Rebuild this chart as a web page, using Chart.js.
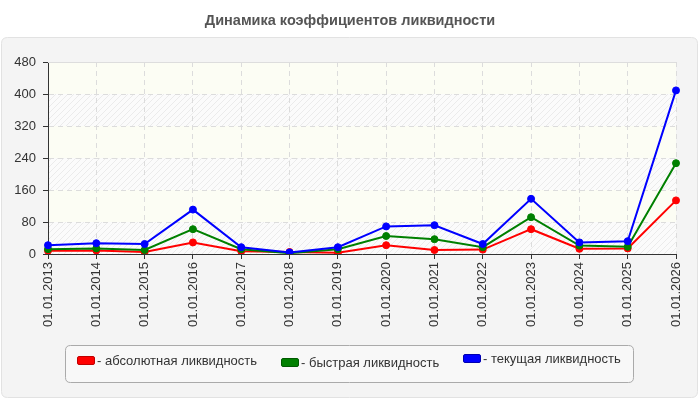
<!DOCTYPE html>
<html>
<head>
<meta charset="utf-8">
<script src="https://cdn.jsdelivr.net/npm/chart.js@4.4.1/dist/chart.umd.min.js"></script>
<style>
  html, body { margin:0; padding:0; background:#fff; }
  #wrap { position:relative; width:700px; height:400px; font-family:"Liberation Sans", Arial, sans-serif; }
  canvas { position:absolute; left:0; top:0; }
  #title { position:absolute; left:0; top:12px; width:700px; text-align:center; font-weight:bold; font-size:14.5px; color:#555; }
  .lg { position:absolute; font-size:13px; color:#333; white-space:nowrap; line-height:15px; }
  .sw { display:inline-block; width:16px; height:7px; border-radius:2px; margin-right:2px; vertical-align:0px; }
</style>
</head>
<body>
<div id="wrap">
  <canvas id="c" width="700" height="400"></canvas>
  <div id="title">Динамика коэффициентов ликвидности</div>
  <div class="lg" style="left:77px; top:353px;"><span class="sw" style="background:#ff0000;border:1px solid #c00000;"></span>- абсолютная ликвидность</div>
  <div class="lg" style="left:281px; top:355px;"><span class="sw" style="background:#008000;border:1px solid #005a00;"></span>- быстрая ликвидность</div>
  <div class="lg" style="left:463px; top:351px;"><span class="sw" style="background:#0000ff;border:1px solid #0000b0;"></span>- текущая ликвидность</div>
</div>
<script>
const categories = ["01.01.2013","01.01.2014","01.01.2015","01.01.2016","01.01.2017","01.01.2018","01.01.2019","01.01.2020","01.01.2021","01.01.2022","01.01.2023","01.01.2024","01.01.2025","01.01.2026"];
const absoluteLiquidity = [8, 9, 5, 29, 7, 5, 3, 22, 10, 11, 62, 13, 14, 134];
const quickLiquidity    = [12, 14, 10, 62, 12, 2, 12, 45, 37, 17, 92, 21, 18, 227];
const currentLiquidity  = [22, 27, 25, 111, 17, 4, 17, 69, 72, 25, 138, 29, 32, 409];
const yTicks = [0, 80, 160, 240, 320, 400, 480];

function makeHatch(ctx) {
  const p = document.createElement('canvas');
  p.width = 6; p.height = 6;
  const g = p.getContext('2d');
  g.fillStyle = '#fbfbfb';
  g.fillRect(0,0,6,6);
  g.strokeStyle = '#ebebeb';
  g.lineWidth = 1;
  g.beginPath();
  g.moveTo(-1,7); g.lineTo(7,-1);
  g.moveTo(-1,1); g.lineTo(1,-1);
  g.moveTo(5,7); g.lineTo(7,5);
  g.stroke();
  return ctx.createPattern(p,'repeat');
}

function roundRect(ctx, x0, y0, x1, y1, r) {
  ctx.beginPath();
  ctx.moveTo(x0 + r, y0);
  ctx.lineTo(x1 - r, y0); ctx.quadraticCurveTo(x1, y0, x1, y0 + r);
  ctx.lineTo(x1, y1 - r); ctx.quadraticCurveTo(x1, y1, x1 - r, y1);
  ctx.lineTo(x0 + r, y1); ctx.quadraticCurveTo(x0, y1, x0, y1 - r);
  ctx.lineTo(x0, y0 + r); ctx.quadraticCurveTo(x0, y0, x0 + r, y0);
  ctx.closePath();
}

const bgPlugin = {
  id: 'bg',
  beforeDraw(chart) {
    const ctx = chart.ctx;
    const ca = chart.chartArea;
    const y = chart.scales.y;
    ctx.save();
    roundRect(ctx, 1.5, 37.5, 697.5, 397.5, 6);
    ctx.fillStyle = '#f4f4f4';
    ctx.fill();
    ctx.strokeStyle = '#e2e2e2';
    ctx.lineWidth = 1;
    ctx.stroke();
    const hatch = makeHatch(ctx);
    for (let i = 0; i < yTicks.length - 1; i++) {
      const top = y.getPixelForValue(yTicks[i + 1]);
      const bot = y.getPixelForValue(yTicks[i]);
      ctx.fillStyle = (i % 2 === 0) ? hatch : '#fcfdf4';
      ctx.fillRect(ca.left, top, ca.right - ca.left, bot - top);
    }
    roundRect(ctx, 65.5, 345.5, 633.5, 382.5, 5);
    ctx.fillStyle = '#f8f8f8';
    ctx.fill();
    ctx.strokeStyle = '#aaaaaa';
    ctx.stroke();
    ctx.restore();
  },
  afterDatasetsDraw(chart) {
    const ctx = chart.ctx, ca = chart.chartArea;
    ctx.save();
    ctx.strokeStyle = '#dddddd';
    ctx.lineWidth = 1;
    ctx.beginPath();
    ctx.moveTo(ca.left, Math.round(ca.top) + 0.5);
    ctx.lineTo(ca.right, Math.round(ca.top) + 0.5);
    ctx.stroke();
    ctx.restore();
  }
};

const tickFont = { family: '"Liberation Sans", Arial, sans-serif', size: 13 };

new Chart(document.getElementById('c'), {
  type: 'line',
  data: {
    labels: categories,
    datasets: [
      { label: 'абсолютная ликвидность', data: absoluteLiquidity, borderColor: '#ff0000', backgroundColor: '#ff0000', order: 3 },
      { label: 'быстрая ликвидность', data: quickLiquidity, borderColor: '#008000', backgroundColor: '#008000', order: 2 },
      { label: 'текущая ликвидность', data: currentLiquidity, borderColor: '#0000ff', backgroundColor: '#0000ff', order: 1 }
    ]
  },
  options: {
    responsive: false,
    animation: false,
    devicePixelRatio: 1,
    layout: { padding: { top: 62, right: 24, bottom: 70, left: 0 } },
    elements: {
      line: { borderWidth: 2, tension: 0, fill: false },
      point: { radius: 3.5, borderWidth: 1, hoverRadius: 3.5 }
    },
    plugins: { legend: { display: false }, tooltip: { enabled: false }, title: { display: false } },
    scales: {
      x: {
        offset: false,
        afterFit(s) { s.height = 76; },
        grid: { color: '#dcdcdc', lineWidth: 1, drawTicks: true, tickLength: 5, tickColor: '#333333' },
        border: { display: true, color: '#333333', width: 1, dash: [5, 4] },
        ticks: { minRotation: 90, maxRotation: 90, autoSkip: false, padding: 3, color: '#333333', font: tickFont }
      },
      y: {
        min: 0, max: 480,
        afterFit(s) { s.width = 48; },
        afterBuildTicks(s) { s.ticks = yTicks.map(v => ({ value: v })); },
        grid: { color: '#dcdcdc', lineWidth: 1, drawTicks: true, tickLength: 5, tickColor: '#333333' },
        border: { display: true, color: '#333333', width: 1, dash: [5, 4] },
        ticks: { padding: 7, color: '#333333', font: tickFont }
      }
    }
  },
  plugins: [bgPlugin]
});
</script>
</body>
</html>
